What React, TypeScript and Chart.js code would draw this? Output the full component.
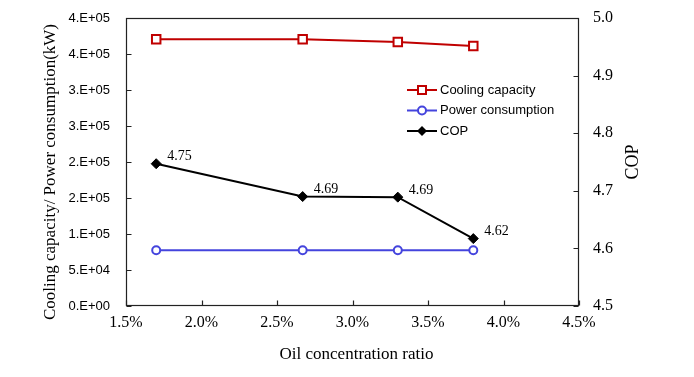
import React, { useEffect, useRef } from 'react';
import { Chart, registerables } from 'chart.js';

Chart.register(...registerables);

const oilRatio = [1.7, 2.67, 3.3, 3.8];
const coolingCapacity = [370500, 370500, 366800, 361200];
const powerConsumption = [77500, 77500, 77500, 77500];
const cop = [4.747, 4.69, 4.689, 4.617];
const copLabels = ['4.75', '4.69', '4.69', '4.62'];
const leftTickLabels = ['0.E+00', '5.E+04', '1.E+05', '2.E+05', '2.E+05', '3.E+05', '3.E+05', '4.E+05', '4.E+05'];
const rightTickLabels = ['4.5', '4.6', '4.7', '4.8', '4.9', '5.0'];
const xTickLabels = ['1.5%', '2.0%', '2.5%', '3.0%', '3.5%', '4.0%', '4.5%'];
const seriesNames = ['Cooling capacity', 'Power consumption', 'COP'];
const xTitle = 'Oil concentration ratio';
const leftTitle = 'Cooling capacity/ Power consumption(kW)';
const rightTitle = 'COP';

const RED = '#C00000';
const BLUE = '#4444DD';
const BLACK = '#000000';
const SERIF = '"Liberation Serif", "Times New Roman", serif';
const SANS = '"Liberation Sans", Arial, sans-serif';

const toPts = (ys: number[]) => ys.map((y, i) => ({ x: oilRatio[i], y }));

const decorPlugin = {
  id: 'decor',
  beforeDatasetsDraw(chart: any) {
    const { ctx, chartArea: a, scales } = chart;
    ctx.save();
    ctx.strokeStyle = '#222';
    ctx.lineWidth = 1.2;
    const L = Math.round(a.left) + 0.5, R = Math.round(a.right) - 0.5;
    const T = Math.round(a.top) + 0.5, B = Math.round(a.bottom) - 0.5;
    ctx.strokeRect(L, T, R - L, B - T);
    ctx.beginPath();
    scales.x.ticks.forEach((t: any) => {
      const px = Math.round(scales.x.getPixelForValue(t.value)) + 0.5;
      ctx.moveTo(px, B);
      ctx.lineTo(px, B - 5);
    });
    scales.y.ticks.forEach((t: any) => {
      const py = Math.round(scales.y.getPixelForValue(t.value)) + 0.5;
      ctx.moveTo(L, py);
      ctx.lineTo(L + 5, py);
    });
    scales.y1.ticks.forEach((t: any) => {
      const py = Math.round(scales.y1.getPixelForValue(t.value)) + 0.5;
      ctx.moveTo(R, py);
      ctx.lineTo(R - 5, py);
    });
    ctx.stroke();
    ctx.restore();
  },
  afterDatasetsDraw(chart: any) {
    const { ctx, chartArea: a } = chart;
    ctx.save();
    // data labels for COP
    const meta = chart.getDatasetMeta(2);
    ctx.fillStyle = '#000';
    ctx.font = `14px ${SERIF}`;
    ctx.textAlign = 'left';
    ctx.textBaseline = 'middle';
    meta.data.forEach((pt: any, i: number) => {
      ctx.fillText(copLabels[i], pt.x + 11, pt.y - 7);
    });

    // legend
    const colors = [RED, BLUE, BLACK];
    const styles = ['rect', 'circle', 'rectRot'];
    const rows = [90, 110.5, 131];
    ctx.font = `13px ${SANS}`;
    rows.forEach((ry, i) => {
      ctx.strokeStyle = colors[i];
      ctx.lineWidth = 2;
      ctx.beginPath();
      ctx.moveTo(407, ry);
      ctx.lineTo(437, ry);
      ctx.stroke();
      ctx.beginPath();
      if (styles[i] === 'rect') {
        ctx.fillStyle = '#fff';
        ctx.rect(418, ry - 4, 8, 8);
        ctx.fill();
        ctx.stroke();
      } else if (styles[i] === 'circle') {
        ctx.fillStyle = '#fff';
        ctx.arc(422, ry, 4, 0, Math.PI * 2);
        ctx.fill();
        ctx.stroke();
      } else {
        ctx.fillStyle = BLACK;
        ctx.moveTo(422, ry - 5);
        ctx.lineTo(427, ry);
        ctx.lineTo(422, ry + 5);
        ctx.lineTo(417, ry);
        ctx.closePath();
        ctx.fill();
      }
      ctx.fillStyle = '#000';
      ctx.textAlign = 'left';
      ctx.textBaseline = 'middle';
      ctx.fillText(seriesNames[i], 440, ry);
    });

    // axis titles
    ctx.fillStyle = '#000';
    ctx.textAlign = 'center';
    ctx.textBaseline = 'middle';
    ctx.font = `17px ${SERIF}`;
    ctx.fillText(xTitle, (a.left + a.right) / 2 + 4, 355);

    ctx.save();
    ctx.translate(51, 172);
    ctx.rotate(-Math.PI / 2);
    ctx.fillText(leftTitle, 0, 0);
    ctx.restore();

    ctx.save();
    ctx.font = `18px ${SERIF}`;
    ctx.translate(633, 162);
    ctx.rotate(-Math.PI / 2);
    ctx.fillText(rightTitle, 0, 0);
    ctx.restore();

    ctx.restore();
  },
};

const fitV = (w: number) => (s: any) => {
  s.width = w;
  s.paddingTop = 0;
  s.paddingBottom = 0;
};

export default function App() {
  const ref = useRef<HTMLCanvasElement | null>(null);
  useEffect(() => {
    if (!ref.current) return;
    const chart = new Chart(ref.current, {
      type: 'line',
      data: {
        datasets: [
          {
            label: seriesNames[0],
            data: toPts(coolingCapacity),
            yAxisID: 'y',
            borderColor: RED,
            backgroundColor: '#fff',
            borderWidth: 2,
            pointStyle: 'rect',
            pointRadius: 6,
            pointBorderWidth: 2,
            pointBorderColor: RED,
            pointBackgroundColor: '#fff',
          },
          {
            label: seriesNames[1],
            data: toPts(powerConsumption),
            yAxisID: 'y',
            borderColor: BLUE,
            backgroundColor: '#fff',
            borderWidth: 2,
            pointStyle: 'circle',
            pointRadius: 4,
            pointBorderWidth: 2,
            pointBorderColor: BLUE,
            pointBackgroundColor: '#fff',
          },
          {
            label: seriesNames[2],
            data: toPts(cop),
            yAxisID: 'y1',
            borderColor: BLACK,
            backgroundColor: BLACK,
            borderWidth: 2,
            pointStyle: 'rectRot',
            pointRadius: 5,
            pointBorderWidth: 1,
            pointBorderColor: BLACK,
            pointBackgroundColor: BLACK,
          },
        ],
      },
      options: {
        animation: false,
        responsive: true,
        maintainAspectRatio: false,
        layout: { padding: { top: 18, left: 0, right: 0, bottom: 0 } },
        plugins: { legend: { display: false }, tooltip: { enabled: false } },
        scales: {
          x: {
            type: 'linear',
            min: 1.5,
            max: 4.5,
            grid: { display: false, drawTicks: false },
            border: { display: false },
            ticks: {
              stepSize: 0.5,
              padding: 7,
              color: '#000',
              font: { family: SERIF, size: 16 },
              maxRotation: 0,
              autoSkip: false,
              callback: (_v: any, i: number) => xTickLabels[i],
            },
            afterFit: (s: any) => {
              s.height = 71;
              s.paddingLeft = 0;
              s.paddingRight = 0;
            },
          },
          y: {
            position: 'left',
            min: 0,
            max: 400000,
            grid: { display: false, drawTicks: false },
            border: { display: false },
            ticks: {
              stepSize: 50000,
              padding: 16,
              color: '#000',
              font: { family: SANS, size: 13 },
              autoSkip: false,
              callback: (_v: any, i: number) => leftTickLabels[i],
            },
            afterFit: fitV(126),
          },
          y1: {
            position: 'right',
            min: 4.5,
            max: 5.0,
            grid: { display: false, drawTicks: false },
            border: { display: false },
            ticks: {
              stepSize: 0.1,
              padding: 14,
              color: '#000',
              font: { family: SERIF, size: 16 },
              autoSkip: false,
              callback: (_v: any, i: number) => rightTickLabels[i],
            },
            afterFit: fitV(115),
          },
        },
      },
      plugins: [decorPlugin],
    } as any);
    return () => chart.destroy();
  }, []);
  return (
    <div style={{ position: 'fixed', left: 0, top: 0, width: 694, height: 377, background: '#fff' }}>
      <canvas ref={ref} />
    </div>
  );
}
